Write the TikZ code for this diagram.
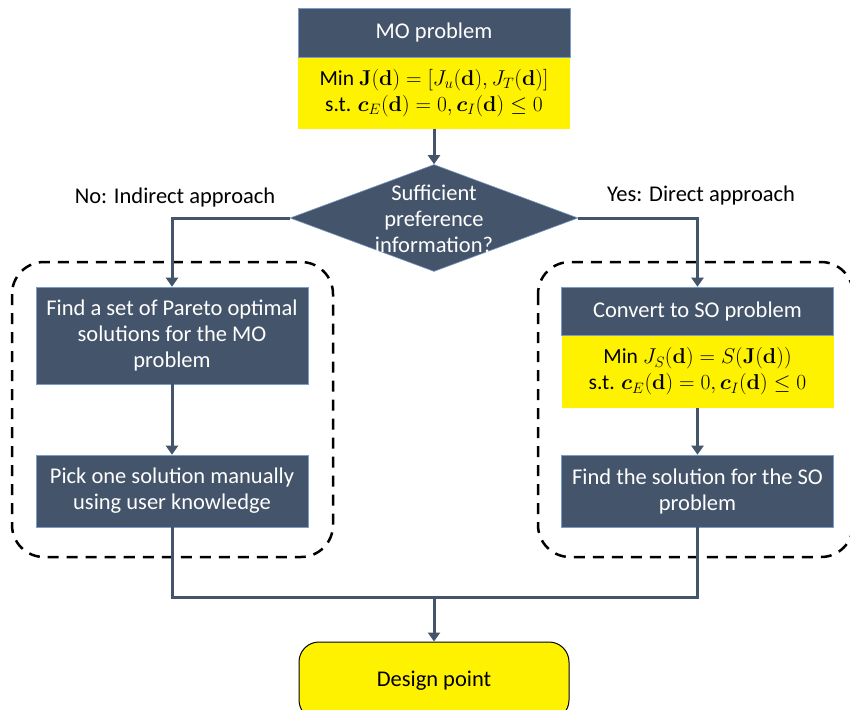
\RequirePackage{fix-cm}
\documentclass[tikz,border=0pt]{standalone}
\usepackage{amsmath,bm}
\usepackage[no-math]{fontspec}
\setmainfont{Carlito}
\usetikzlibrary{shapes.geometric,arrows.meta}
\definecolor{slate}{HTML}{44546A}
\definecolor{edgeblue}{HTML}{7A9CC8}
\begin{document}
\begin{tikzpicture}[x=1pt,y=-1pt,
  txt/.style={font=\fontsize{22.5}{26}\selectfont, align=center},
  darkbox/.style={txt, fill=slate, draw=edgeblue, line width=0.6pt, text=white, minimum width=272pt, inner sep=0pt},
  yelbox/.style={txt, font=\fontsize{21.5}{26}\selectfont, fill=yellow, draw=none, minimum width=272pt, inner sep=0pt},
  conn/.style={draw=slate, line width=3pt},
  arr/.style={conn, -{Triangle[length=9pt,width=12pt]}},
  groupbox/.style={draw=black, line width=2.5pt, dash pattern=on 11pt off 8pt, rounded corners=32pt},
  decision/.style={diamond, fill=slate, draw=edgeblue, line width=0.6pt, minimum width=288pt, minimum height=107pt, inner sep=0pt},
  endbox/.style={txt, fill=yellow, draw=black, line width=1pt, rounded corners=20pt, minimum width=270pt, minimum height=78pt, inner sep=0pt}
]
\useasboundingbox (0,0) rectangle (850,709);

% dashed groups
\draw[groupbox] (12,262) rectangle (333,557);
\draw[groupbox] (538,262) rectangle (853,557);

% top
\node[darkbox, minimum height=49pt] (mo) at (434,32.5) {MO problem};
\node[yelbox, minimum height=71pt, anchor=north] (moy) at (mo.south)
  {Min $\mathbf{J}(\mathbf{d})=[J_u(\mathbf{d}),J_T(\mathbf{d})]$\\
   s.t. $\bm{c}_E(\mathbf{d})=0,\bm{c}_I(\mathbf{d})\leq 0$};

% decision
\node[decision] (dec) at (434,218) {};
\node[txt, text=white] (dectxt) at (434,219) {Sufficient\\preference\\information?};

\node[txt] (nolab) at (175,197) {No: Indirect approach};
\node[txt] (yeslab) at (701,195) {Yes: Direct approach};

% left branch
\node[darkbox, minimum height=97pt] (lb1) at (172,335.5) {Find a set of Pareto optimal\\solutions for the MO\\problem};
\node[darkbox, minimum height=72pt] (lb2) at (172,491) {Pick one solution manually\\using user knowledge};

% right branch
\node[darkbox, minimum height=48pt] (rb1) at (697.5,311) {Convert to SO problem};
\node[yelbox, minimum height=72pt, anchor=north] (rb1y) at (rb1.south)
  {Min $J_S(\mathbf{d})=S(\mathbf{J}(\mathbf{d}))$\\
   s.t. $\bm{c}_E(\mathbf{d})=0,\bm{c}_I(\mathbf{d})\leq 0$};
\node[darkbox, minimum height=72pt] (rb2) at (697.5,491) {Find the solution for the SO\\problem};

% end
\node[endbox] (dp) at (434,681) {Design point};

\coordinate (junc) at (434,597);

% connectors
\draw[arr] (moy.south) -- (dec.north);
\draw[arr] (dec.west) -| (lb1.north);
\draw[arr] (dec.east) -| (rb1.north);
\draw[arr] (lb1.south) -- (lb2.north);
\draw[arr] (rb1y.south) -- (rb2.north);
\draw[conn] (lb2.south) -- (lb2.south |- junc) -- (rb2.south |- junc) -- (rb2.south);
\draw[arr] (junc) -- (dp.north);
\end{tikzpicture}
\end{document}
